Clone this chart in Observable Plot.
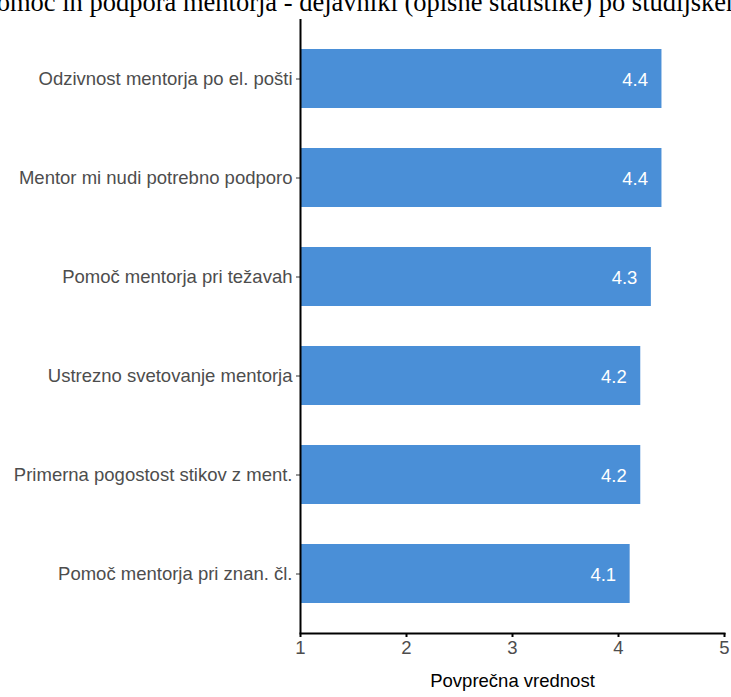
<!DOCTYPE html>
<html>
<head>
<meta charset="utf-8">
<script src="https://cdn.jsdelivr.net/npm/d3@7"></script>
<script src="https://cdn.jsdelivr.net/npm/@observablehq/plot@0.6"></script>
<style>
  html, body { margin: 0; padding: 0; background: #fff; overflow: hidden; width: 731px; height: 697px; }
  #wrap { position: relative; width: 731px; height: 697px; overflow: hidden; }
  #title { position: absolute; left: -18px; top: -11px; line-height: 1; white-space: nowrap; font-family: "Liberation Serif", "Times New Roman", serif; font-size: 26.5px; color: #000; }
  #chart { position: absolute; left: 0; top: 0; }
</style>
</head>
<body>
<div id="wrap">
  <div id="chart"></div>
  <div id="title">Pomoč in podpora mentorja - dejavniki (opisne statistike) po študijskem programu</div>
</div>
<script>
const categories = [
  "Odzivnost mentorja po el. pošti",
  "Mentor mi nudi potrebno podporo",
  "Pomoč mentorja pri težavah",
  "Ustrezno svetovanje mentorja",
  "Primerna pogostost stikov z ment.",
  "Pomoč mentorja pri znan. čl."
];
const values = [4.41, 4.41, 4.31, 4.21, 4.21, 4.11];
const labels = ["4.4", "4.4", "4.3", "4.2", "4.2", "4.1"];
const xTicks = [1, 2, 3, 4, 5];
const xTitle = "Povprečna vrednost";

const data = categories.map((c, i) => ({category: c, value: values[i], label: labels[i]}));

const chart = Plot.plot({
  width: 731,
  height: 697,
  marginLeft: 300,
  marginRight: 7,
  marginTop: 19,
  marginBottom: 64,
  style: {fontFamily: "'Liberation Sans', Arial, sans-serif", fontSize: "18.5px", background: "transparent"},
  x: {domain: [1, 5]},
  y: {domain: categories, paddingInner: 0.4, paddingOuter: 0.3},
  marks: [
    Plot.barX(data, {y: "category", x1: 1, x2: "value", fill: "#4a8fd7"}),
    Plot.text(data, {y: "category", x: "value", text: "label", textAnchor: "end", dx: -14, dy: 1, fill: "white", fontSize: 18.5}),
    Plot.axisY({ticks: categories, tickSize: 4, tickPadding: 4, fontSize: 18.5, color: "#4d4d4d", stroke: "#333", label: null}),
    Plot.axisX({ticks: xTicks, tickFormat: (d) => String(d), tickSize: 4, tickPadding: 3, fontSize: 18.5, color: "#4d4d4d", stroke: "#000", strokeWidth: 2, label: null}),
    Plot.text([xTitle], {text: (d) => d, frameAnchor: "bottom", dy: 53, fill: "#000", fontSize: 18.5}),
    Plot.ruleX([1], {stroke: "#000", strokeWidth: 2}),
    Plot.frame({anchor: "bottom", stroke: "#000", strokeWidth: 2})
  ]
});
document.getElementById("chart").appendChild(chart);
</script>
</body>
</html>
